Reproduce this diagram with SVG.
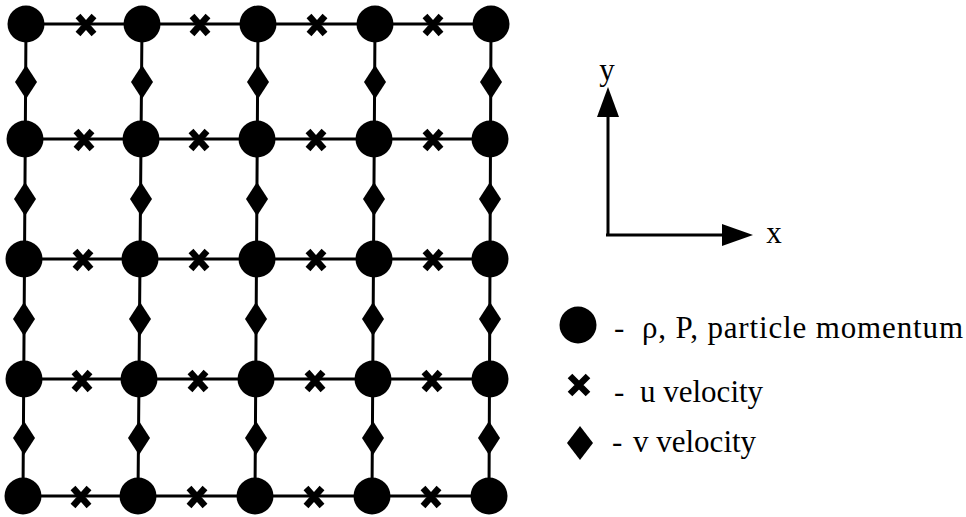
<svg xmlns="http://www.w3.org/2000/svg" width="966" height="517" viewBox="0 0 966 517">
<style>
.ln{stroke:#000;stroke-width:3;fill:none}
.x{stroke:#000;stroke-width:6.5;fill:none;stroke-linecap:butt}
.t{font-family:'Liberation Serif','Times New Roman','DejaVu Serif',serif;font-size:31px;fill:#000}
</style>
<defs>
<circle id="c" r="18.5" fill="#000"/>
<path id="d" d="M0,-17 L11,0 L0,17 L-11,0 Z" fill="#000"/>
<path id="u" d="M-8,-9 L8,9 M8,-9 L-8,9" class="x"/>
</defs>
<g id="connectors">
<path class="ln" d="M26,24 H491 M25,139 H490 M24,259 H490 M24,379 H490 M23,496 H489"/>
<path class="ln" d="M26,24 L23,496 M142,24 L138,496 M258,24 L255,496 M375,24 L372,496 M491,24 L489,496"/>
<path class="ln" d="M608,235 V115 M606,235 H724"/>
<polygon points="608,87 597,117 619,117" fill="#000"/>
<polygon points="753,235 722,224 722,246" fill="#000"/>
</g>
<g id="nodes">
<use href="#c" x="26" y="24"/><use href="#c" x="142" y="24"/><use href="#c" x="258" y="24"/><use href="#c" x="375" y="24"/><use href="#c" x="491" y="24"/>
<use href="#c" x="25" y="139"/><use href="#c" x="141" y="139"/><use href="#c" x="257" y="139"/><use href="#c" x="374" y="139"/><use href="#c" x="490" y="139"/>
<use href="#c" x="24" y="259"/><use href="#c" x="140" y="259"/><use href="#c" x="257" y="259"/><use href="#c" x="374" y="259"/><use href="#c" x="490" y="259"/>
<use href="#c" x="24" y="379"/><use href="#c" x="139" y="379"/><use href="#c" x="256" y="379"/><use href="#c" x="373" y="379"/><use href="#c" x="490" y="379"/>
<use href="#c" x="23" y="496"/><use href="#c" x="138" y="496"/><use href="#c" x="255" y="496"/><use href="#c" x="372" y="496"/><use href="#c" x="489" y="496"/>
</g>
<g id="u-marks">
<use href="#u" x="86" y="25"/><use href="#u" x="200" y="25"/><use href="#u" x="317" y="25"/><use href="#u" x="433" y="25"/>
<use href="#u" x="84" y="140"/><use href="#u" x="199" y="140"/><use href="#u" x="316" y="140"/><use href="#u" x="433" y="140"/>
<use href="#u" x="83" y="260"/><use href="#u" x="199" y="260"/><use href="#u" x="316" y="260"/><use href="#u" x="433" y="260"/>
<use href="#u" x="82" y="381"/><use href="#u" x="198" y="381"/><use href="#u" x="315" y="381"/><use href="#u" x="432" y="381"/>
<use href="#u" x="81" y="497"/><use href="#u" x="197" y="497"/><use href="#u" x="314" y="497"/><use href="#u" x="431" y="497"/>
</g>
<g id="v-marks">
<use href="#d" x="26" y="82"/><use href="#d" x="142" y="82"/><use href="#d" x="258" y="82"/><use href="#d" x="375" y="82"/><use href="#d" x="491" y="82"/>
<use href="#d" x="25" y="199"/><use href="#d" x="141" y="199"/><use href="#d" x="257" y="199"/><use href="#d" x="374" y="199"/><use href="#d" x="490" y="199"/>
<use href="#d" x="24" y="319"/><use href="#d" x="140" y="319"/><use href="#d" x="256" y="319"/><use href="#d" x="373" y="319"/><use href="#d" x="490" y="319"/>
<use href="#d" x="24" y="438"/><use href="#d" x="139" y="438"/><use href="#d" x="256" y="438"/><use href="#d" x="373" y="438"/><use href="#d" x="489" y="438"/>
</g>
<g id="axes-labels">
<text class="t" font-family="Liberation Serif, serif" x="607" y="80" text-anchor="middle">y</text>
<text class="t" font-family="Liberation Serif, serif" x="774" y="243" text-anchor="middle">x</text>
</g>
<g id="legend">
<circle cx="578" cy="325" r="18.5" fill="#000"/>
<path d="M570,376 L588,394 M588,376 L570,394" class="x"/>
<path d="M580,426 L593,443 L580,460 L567,443 Z" fill="#000"/>
<text class="t" x="614" y="338">-</text>
<text class="t" x="642" y="338" textLength="321" lengthAdjust="spacing">ρ, P, particle momentum</text>
<text class="t" x="614" y="402">-</text>
<text class="t" x="640" y="402">u velocity</text>
<text class="t" x="612" y="452">-</text>
<text class="t" x="633" y="452">v velocity</text>
</g>
</svg>
